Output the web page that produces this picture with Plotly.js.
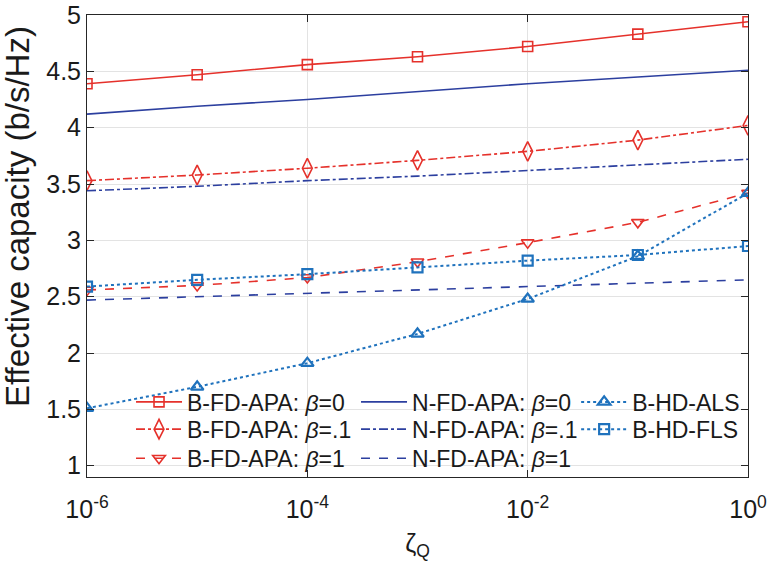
<!DOCTYPE html>
<html>
<head>
<meta charset="utf-8">
<script src="https://cdn.plot.ly/plotly-3.0.1.min.js"></script>
<style>
  html, body { margin: 0; padding: 0; background: #fff; }
  #chart { width: 768px; height: 568px; }
</style>
</head>
<body>
<div id="chart"></div>
<script>
// QoS exponent values (log scale)
const zetaQ = [1e-6, 1e-5, 1e-4, 1e-3, 1e-2, 1e-1, 1e0];

// Effective capacity (b/s/Hz) per scheme
const bFdApaBeta0  = [4.39, 4.47, 4.56, 4.63, 4.72, 4.83, 4.94];
const bFdApaBeta01 = [3.53, 3.58, 3.64, 3.71, 3.79, 3.89, 4.02];
const bFdApaBeta1  = [2.56, 2.60, 2.67, 2.81, 2.98, 3.16, 3.42];
const nFdApaBeta0  = [4.12, 4.19, 4.25, 4.32, 4.39, 4.45, 4.51];
const nFdApaBeta01 = [3.44, 3.48, 3.53, 3.57, 3.62, 3.67, 3.72];
const nFdApaBeta1  = [2.47, 2.50, 2.53, 2.56, 2.59, 2.62, 2.65];
const bHdAls       = [1.51, 1.70, 1.91, 2.17, 2.48, 2.86, 3.42];
const bHdFls       = [2.59, 2.65, 2.70, 2.76, 2.82, 2.87, 2.95];

const xTickVals  = [1e-6, 1e-4, 1e-2, 1e0];
const xTickTexts = ['10<sup>-6</sup>', '10<sup>-4</sup>', '10<sup>-2</sup>', '10<sup>0</sup>'];
const yTickVals  = [1, 1.5, 2, 2.5, 3, 3.5, 4, 4.5, 5];
const yTickTexts = ['1', '1.5', '2', '2.5', '3', '3.5', '4', '4.5', '5'];

const RED = '#e5312b';
const NAVY = '#2c3f9f';
const BLUE = '#1f72bd';
const FONT = 'Liberation Sans, Arial, sans-serif';

function series(y, name, color, dash, symbol, legend, opts) {
  opts = opts || {};
  const t = {
    x: zetaQ, y: y, name: name, type: 'scatter',
    mode: symbol ? 'lines+markers' : 'lines',
    line: {color: color, dash: dash, width: opts.width || 1.6},
    legend: legend
  };
  if (symbol) {
    t.marker = {symbol: symbol, size: opts.size || 10, color: color,
                line: {color: color, width: opts.mlw || 1.6}};
  }
  return t;
}

// Legend laid out as a 3-column grid, one legend box per cell
const traces = [
  series(bFdApaBeta0,  'B-FD-APA: <i>β</i>=0',  RED,  'solid',   'square-open',        'legend'),
  series(bFdApaBeta01, 'B-FD-APA: <i>β</i>=.1', RED,  'dashdot', 'diamond-tall-open',  'legend2', {size: 14}),
  series(bFdApaBeta1,  'B-FD-APA: <i>β</i>=1',  RED,  'dash',    'triangle-down-open', 'legend3', {size: 11}),
  series(nFdApaBeta0,  'N-FD-APA: <i>β</i>=0',  NAVY, 'solid',   null, 'legend4'),
  series(nFdApaBeta01, 'N-FD-APA: <i>β</i>=.1', NAVY, 'dashdot', null, 'legend5'),
  series(nFdApaBeta1,  'N-FD-APA: <i>β</i>=1',  NAVY, 'dash',    null, 'legend6'),
  series(bHdAls,       'B-HD-ALS',              BLUE, 'dot',     'triangle-up-open',   'legend7', {width: 2, size: 11, mlw: 2.2}),
  series(bHdFls,       'B-HD-FLS',              BLUE, 'dot',     'square-open',        'legend8', {width: 2, size: 10, mlw: 2.2})
];

const legendBase = {
  bgcolor: 'rgba(0,0,0,0)', borderwidth: 0,
  font: {family: FONT, size: 23, color: '#1a1a1a'},
  xref: 'paper', yref: 'paper', xanchor: 'left', yanchor: 'top',
  itemwidth: 46
};
const colX = [0.0666, 0.407, 0.740];
const rowY = [0.2090, 0.150, 0.0870];
function cell(c, r) { return Object.assign({}, legendBase, {x: colX[c], y: rowY[r]}); }

const axisBase = {
  showline: true, linecolor: '#262626', linewidth: 1, mirror: 'ticks',
  ticks: 'inside', ticklen: 7, tickcolor: '#262626',
  showgrid: true, gridcolor: '#e3e3e3', gridwidth: 1, zeroline: false,
  tickfont: {family: FONT, size: 25, color: '#1a1a1a'}
};

const layout = {
  width: 768, height: 568,
  margin: {l: 87, r: 20, t: 15, b: 91},
  paper_bgcolor: '#fff', plot_bgcolor: '#fff',
  font: {family: FONT, color: '#1a1a1a'},
  xaxis: Object.assign({}, axisBase, {
    type: 'log', range: [-6, 0],
    tickvals: xTickVals, ticktext: xTickTexts,
    ticklabelstandoff: 10,
    title: {text: 'ζ<sub>Q</sub>', font: {size: 25}, standoff: 12}
  }),
  yaxis: Object.assign({}, axisBase, {
    range: [0.9, 5.0001], tickvals: yTickVals, ticktext: yTickTexts
  }),
  annotations: [{
    text: 'Effective capacity (b/s/Hz)', textangle: -90, showarrow: false,
    xref: 'paper', yref: 'paper', x: -0.1044, y: 0.565,
    xanchor: 'center', yanchor: 'middle',
    font: {family: FONT, size: 33, color: '#1a1a1a'}
  }],
  legend:  cell(0, 0), legend2: cell(0, 1), legend3: cell(0, 2),
  legend4: cell(1, 0), legend5: cell(1, 1), legend6: cell(1, 2),
  legend7: cell(2, 0), legend8: cell(2, 1),
  showlegend: true
};

Plotly.newPlot('chart', traces, layout, {displayModeBar: false, staticPlot: true});
</script>
</body>
</html>
